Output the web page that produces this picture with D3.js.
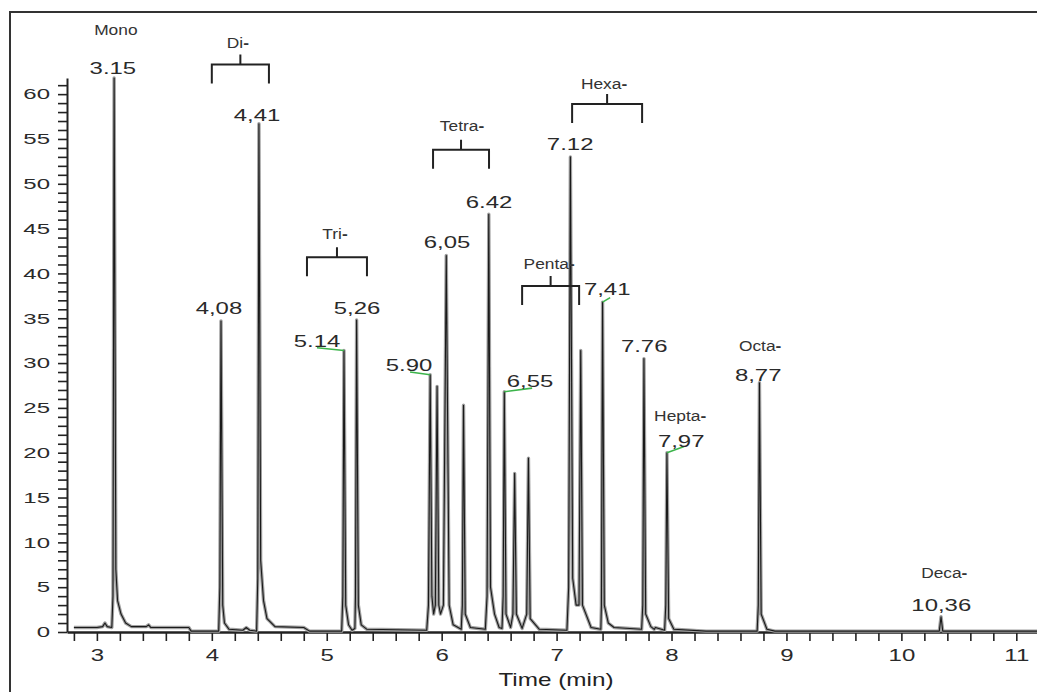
<!DOCTYPE html>
<html>
<head>
<meta charset="utf-8">
<script src="https://cdn.jsdelivr.net/npm/d3@7"></script>
<style>
  body { margin: 0; background: #fff; }
  svg { display: block; font-family: 'Liberation Sans', Arial, sans-serif; }
  .axis path, .axis line { stroke: #222; }
  .axis text { fill: #2a2a2a; }
</style>
</head>
<body>
<div id="chart"></div>
<script>
// chromatogram trace, [time (min), signal]
const trace = [
  [2.8, 0.5], [3.0, 0.5], [3.05, 0.6], [3.07, 1.0], [3.09, 0.6], [3.13, 0.5],
  [3.14, 4], [3.15, 61.8], [3.165, 7], [3.18, 3.5], [3.21, 2], [3.25, 1.0], [3.3, 0.6],
  [3.43, 0.6], [3.45, 0.8], [3.47, 0.5], [3.8, 0.5], [3.82, 0.1],
  [4.06, 0.1], [4.07, 5], [4.08, 34.7], [4.095, 3], [4.11, 1.0], [4.15, 0.3], [4.27, 0.2],
  [4.3, 0.5], [4.33, 0.2], [4.39, 0.1],
  [4.4, 6], [4.41, 56.7], [4.425, 8], [4.45, 3.5], [4.48, 1.5], [4.55, 0.6], [4.8, 0.5], [4.85, 0.1],
  [5.13, 0.1], [5.14, 4], [5.15, 31.4], [5.165, 3], [5.19, 0.8], [5.22, 0.2], [5.245, 0.4],
  [5.25, 4], [5.26, 34.8], [5.275, 3], [5.3, 0.8], [5.35, 0.3], [5.87, 0.2],
  [5.885, 3], [5.9, 28.7], [5.915, 4], [5.93, 2], [5.945, 3], [5.96, 27.4], [5.975, 3],
  [5.99, 2], [6.015, 3], [6.04, 42.0], [6.065, 3], [6.1, 0.8], [6.17, 0.3],
  [6.18, 3], [6.19, 25.3], [6.205, 2], [6.25, 0.5], [6.38, 0.3],
  [6.395, 4], [6.41, 46.6], [6.425, 5], [6.46, 2], [6.5, 0.5], [6.525, 0.4],
  [6.535, 4], [6.545, 26.8], [6.56, 2], [6.6, 0.5], [6.62, 2], [6.635, 17.7], [6.65, 2],
  [6.7, 0.4], [6.74, 2], [6.755, 19.4], [6.77, 1.5], [6.85, 0.3], [7.09, 0.2],
  [7.105, 5], [7.12, 53.0], [7.14, 6], [7.17, 3], [7.195, 3], [7.21, 31.4], [7.225, 3],
  [7.3, 0.5], [7.385, 0.3], [7.39, 3], [7.4, 36.8], [7.415, 3], [7.45, 1], [7.5, 0.5],
  [7.74, 0.3], [7.75, 3], [7.76, 30.5], [7.775, 2], [7.82, 0.6], [7.85, 0.3], [7.86, 0.5],
  [7.94, 0.2], [7.95, 3], [7.96, 20.0], [7.975, 1.5], [8.02, 0.3], [8.3, 0.1],
  [8.745, 0.1], [8.755, 3], [8.765, 27.8], [8.78, 2], [8.83, 0.3], [8.9, 0.1],
  [10.33, 0.1], [10.345, 1.7], [10.36, 0.1], [11.18, 0.1]
]

// retention time labels and where they sit (data units)
const peakLabels = ['3.15', '4,08', '4,41', '5.14', '5,26', '5.90', '6,05', '6.42', '6,55', '7.12', '7,41', '7.76', '7,97', '8,77', '10,36']
const peakLabelAt = [
  [3.139, 62.9], [4.062, 36.1], [4.393, 57.7], [4.915, 32.4], [5.263, 36.1],
  [5.716, 29.8], [6.047, 43.5], [6.412, 47.9], [6.769, 28.0], [7.118, 54.4],
  [7.44, 38.2], [7.762, 31.9], [8.084, 21.3], [8.754, 28.7], [10.347, 3.0]
]

// congener group names
const groupNames = ['Mono', 'Di', 'Tri', 'Tetra', 'Penta', 'Hexa', 'Hepta', 'Octa', 'Deca']
const groupAt = [
  [3.165, 67.2], [4.227, 65.7], [5.072, 44.4], [6.177, 56.5], [6.935, 41.1],
  [7.413, 61.2], [8.075, 24.1], [8.771, 32.0], [10.373, 6.6]
]

// brackets: [start, end, level]
const brackets = [
  [4.0, 4.497, 63.3], [4.828, 5.35, 41.8], [5.925, 6.412, 53.8],
  [6.7, 7.196, 38.6], [7.135, 7.744, 58.9]
]

// green leaders: [peak time, peak height, end time, end level]
const leaders = [
  [5.15, 31.4, 4.915, 31.7], [5.9, 28.7, 5.725, 29.0], [6.545, 26.8, 6.787, 27.2],
  [7.4, 36.8, 7.466, 37.3], [7.96, 20.0, 8.11, 20.7]
]

const xTicks = d3.range(14, 56).map(i => i / 5)
const yTicks = d3.range(0, 62)

const width = 1037
const height = 692

const svg = d3.select('#chart')
  .append('svg')
  .attr('width', width)
  .attr('height', height)

svg.append('rect')
  .attr('x', 10)
  .attr('y', 12)
  .attr('width', 1060)
  .attr('height', 700)
  .attr('fill', '#fff')
  .attr('stroke', '#333')
  .attr('stroke-width', 2)

const x = d3.scaleLinear().domain([2.74, 11.18]).range([67, 1037])
const y = d3.scaleLinear().domain([0, 61.8]).range([632, 78])

const stretched = (sel, str, px, py, size, sx, color) => {
  return sel.append('text')
    .attr('transform', `translate(${px},${py}) scale(${sx},1)`)
    .attr('text-anchor', 'middle')
    .attr('dy', '0.35em')
    .style('font-size', size + 'px')
    .style('fill', color)
    .text(str)
}

// axes
const yAxis = svg.append('g')
  .attr('class', 'axis')
  .attr('transform', `translate(${x.range()[0]},0)`)
  .call(d3.axisLeft(y)
    .tickValues(yTicks)
    .tickSize(9)
    .tickSizeOuter(0)
    .tickFormat(d => d % 5 === 0 ? d : ''))

yAxis.select('.domain').attr('stroke-width', 2)
yAxis.selectAll('.tick line').attr('stroke-width', 1.6)
yAxis.selectAll('.tick text')
  .attr('x', 0)
  .attr('transform', 'translate(-17,0) scale(1.6,1)')
  .style('font-size', '15px')
  .style('font-family', 'Liberation Sans, Arial, sans-serif')

const xAxis = svg.append('g')
  .attr('class', 'axis')
  .attr('transform', `translate(0,${y(0)})`)
  .call(d3.axisBottom(x)
    .tickValues(xTicks)
    .tickSize(9)
    .tickSizeOuter(0)
    .tickFormat(d => Math.abs(d - Math.round(d)) < 1e-6 ? Math.round(d) : ''))

xAxis.select('.domain').attr('stroke-width', 2.4)
xAxis.selectAll('.tick line').attr('stroke-width', 1.6)
xAxis.selectAll('.tick text')
  .attr('y', 0)
  .attr('dy', '0.35em')
  .attr('transform', 'translate(0,23) scale(1.5,1)')
  .style('font-size', '16px')
  .style('font-family', 'Liberation Sans, Arial, sans-serif')

stretched(svg, 'Time (min)', 556, 680, 18, 1.35, '#222')

// trace
const line = d3.line()
  .x(d => x(d[0]))
  .y(d => y(d[1]))

svg.append('path')
  .datum(trace)
  .attr('d', line)
  .attr('fill', 'none')
  .attr('stroke', '#a0a0a0')
  .attr('stroke-width', 3.4)
  .attr('stroke-linejoin', 'round')

svg.append('path')
  .datum(trace)
  .attr('d', line)
  .attr('fill', 'none')
  .attr('stroke', '#1a1a1a')
  .attr('stroke-width', 1.1)
  .attr('stroke-linejoin', 'round')

// brackets
svg.append('g')
  .selectAll('path')
  .data(brackets)
  .join('path')
  .attr('d', d => {
    const x0 = x(d[0])
    const x1 = x(d[1])
    const yb = y(d[2])
    const xm = (x0 + x1) / 2
    return `M${x0},${yb + 19}V${yb}H${x1}V${yb + 19}M${xm},${yb}V${yb - 10}`
  })
  .attr('fill', 'none')
  .attr('stroke', '#222')
  .attr('stroke-width', 2)

// leaders
svg.append('g')
  .selectAll('line')
  .data(leaders)
  .join('line')
  .attr('x1', d => x(d[0]))
  .attr('y1', d => y(d[1]))
  .attr('x2', d => x(d[2]))
  .attr('y2', d => y(d[3]))
  .attr('stroke', '#3cb44b')
  .attr('stroke-width', 1.6)

// labels
peakLabels.forEach((label, i) => {
  const [t, v] = peakLabelAt[i]
  stretched(svg, label, x(t), y(v), 16.5, 1.45, '#2a2a2a')
})

groupNames.forEach((name, i) => {
  const [t, v] = groupAt[i]
  const txt = stretched(svg, name, x(t), y(v), 15.5, 1.12, '#333')
  if (name !== 'Mono') {
    txt.append('tspan').style('font-weight', 'bold').text('-')
  }
})
</script>
</body>
</html>
